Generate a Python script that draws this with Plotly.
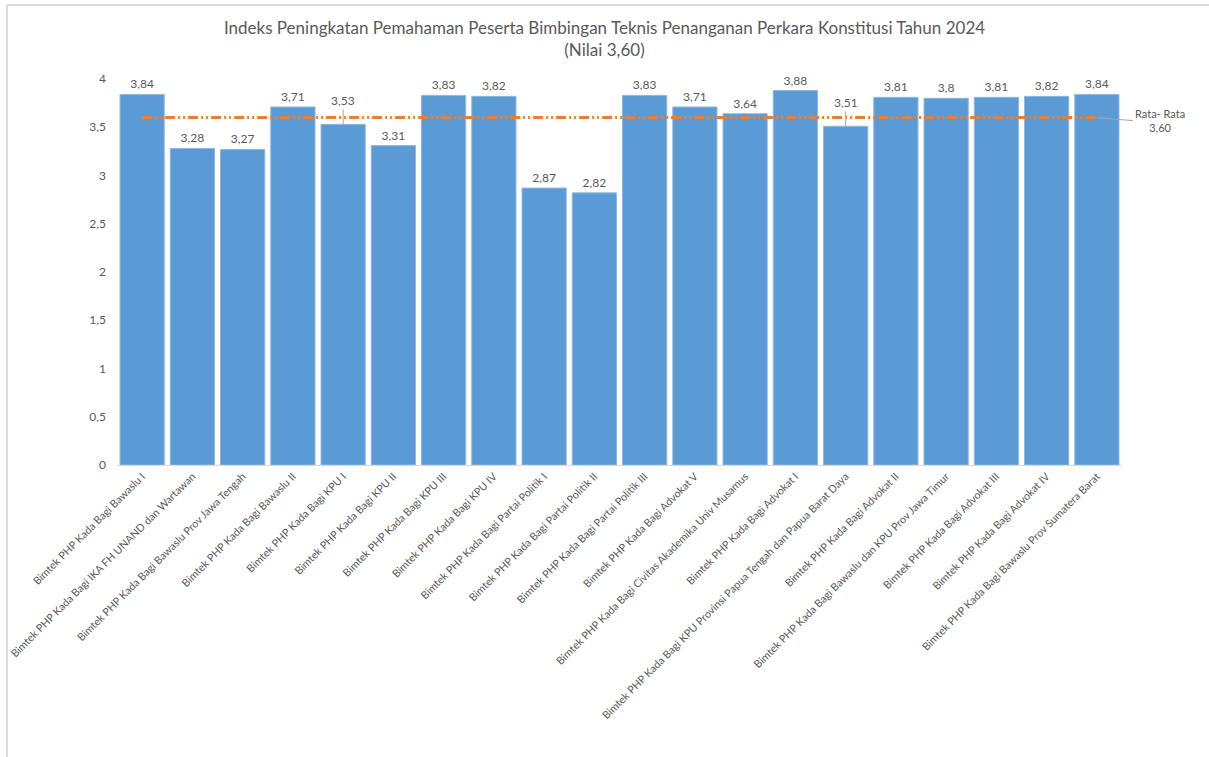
import plotly.graph_objects as go

categories = [
    "Bimtek PHP Kada Bagi Bawaslu I",
    "Bimtek PHP Kada Bagi IKA FH UNAND dan Wartawan",
    "Bimtek PHP Kada Bagi Bawaslu Prov Jawa Tengah",
    "Bimtek PHP Kada Bagi Bawaslu II",
    "Bimtek PHP Kada Bagi KPU I",
    "Bimtek PHP Kada Bagi KPU II",
    "Bimtek PHP Kada Bagi KPU III",
    "Bimtek PHP Kada Bagi KPU IV",
    "Bimtek PHP Kada Bagi Partai Politik I",
    "Bimtek PHP Kada Bagi Partai Politik II",
    "Bimtek PHP Kada Bagi Partai Politik III",
    "Bimtek PHP Kada Bagi Advokat V",
    "Bimtek PHP Kada Bagi Civitas Akademika Univ Musamus",
    "Bimtek PHP Kada Bagi Advokat I",
    "Bimtek PHP Kada Bagi KPU Provinsi Papua Tengah dan Papua Barat Daya",
    "Bimtek PHP Kada Bagi Advokat II",
    "Bimtek PHP Kada Bagi Bawaslu dan KPU Prov Jawa Timur",
    "Bimtek PHP Kada Bagi Advokat III",
    "Bimtek PHP Kada Bagi Advokat IV",
    "Bimtek PHP Kada Bagi Bawaslu Prov Sumatera Barat",
]
values = [3.84, 3.28, 3.27, 3.71, 3.53, 3.31, 3.83, 3.82, 2.87, 2.82,
          3.83, 3.71, 3.64, 3.88, 3.51, 3.81, 3.80, 3.81, 3.82, 3.84]
average = 3.60
# labels that Excel moved above the average line (with leader lines)
moved_labels = [4, 14]

FONT = "Lato"
GREY = "#595959"

bar_text = ["" if i in moved_labels else f"{v:g}".replace(".", ",")
            for i, v in enumerate(values)]

fig = go.Figure()
fig.add_trace(go.Bar(
    x=categories, y=values, text=bar_text, textposition="outside",
    textfont=dict(size=12, color=GREY, family=FONT), cliponaxis=False,
    marker=dict(color="#5B9BD5", line=dict(color="#8DB8E3", width=1)),
    showlegend=False,
))
fig.add_trace(go.Scatter(
    x=categories, y=[average] * len(categories), mode="lines",
    line=dict(color="#ED7D31", width=3, dash="10px,3px,2px,3px,2px,3px"),
    showlegend=False,
))

for i in moved_labels:
    fig.add_annotation(
        x=categories[i], y=values[i], text=f"{values[i]:g}".replace(".", ","),
        showarrow=True, arrowhead=0, arrowwidth=1, arrowcolor="#A6A6A6",
        ax=0, ay=-24, font=dict(size=12, color=GREY, family=FONT),
    )

fig.add_annotation(
    x=categories[-1], y=average, text="Rata- Rata<br>3,60", align="center",
    showarrow=True, arrowhead=0, arrowwidth=1, arrowcolor="#A6A6A6",
    ax=36, ay=3, xanchor="left", font=dict(size=11, color=GREY, family=FONT),
)

# chart border (top and left only visible)
fig.add_shape(type="line", xref="paper", yref="paper",
              x0=-0.1095, x1=1.09, y0=1.192, y1=1.192,
              line=dict(color="#D9D9D9", width=2))
fig.add_shape(type="line", xref="paper", yref="paper",
              x0=-0.1095, x1=-0.1095, y0=1.192, y1=-0.76,
              line=dict(color="#D9D9D9", width=2))

fig.update_layout(
    width=1209, height=757,
    margin=dict(l=117, r=87, t=79, b=292),
    paper_bgcolor="white", plot_bgcolor="white",
    separators=", ",
    bargap=0.12,
    title=dict(
        text="Indeks Peningkatan Pemahaman Peserta Bimbingan Teknis Penanganan Perkara Konstitusi Tahun 2024<br>(Nilai 3,60)",
        x=0.5, xanchor="center", y=0.955, yanchor="top",
        font=dict(size=17, color=GREY, family=FONT),
    ),
    font=dict(family=FONT, color=GREY),
    xaxis=dict(
        range=[-0.5, len(categories) - 0.5],
        tickangle=-45, tickfont=dict(size=10.7, color=GREY, family=FONT),
        showline=True, linecolor="#D9D9D9", linewidth=1, showgrid=False,
        ticks="", automargin=False,
    ),
    yaxis=dict(
        range=[0, 4], dtick=0.5, showgrid=False, zeroline=False, showline=False,
        tickfont=dict(size=12, color=GREY, family=FONT), ticks="",
        ticklabelstandoff=10, automargin=False,
    ),
)

fig.write_html("out.html", config={"displayModeBar": False},
               post_script="document.body.style.margin='0';")
